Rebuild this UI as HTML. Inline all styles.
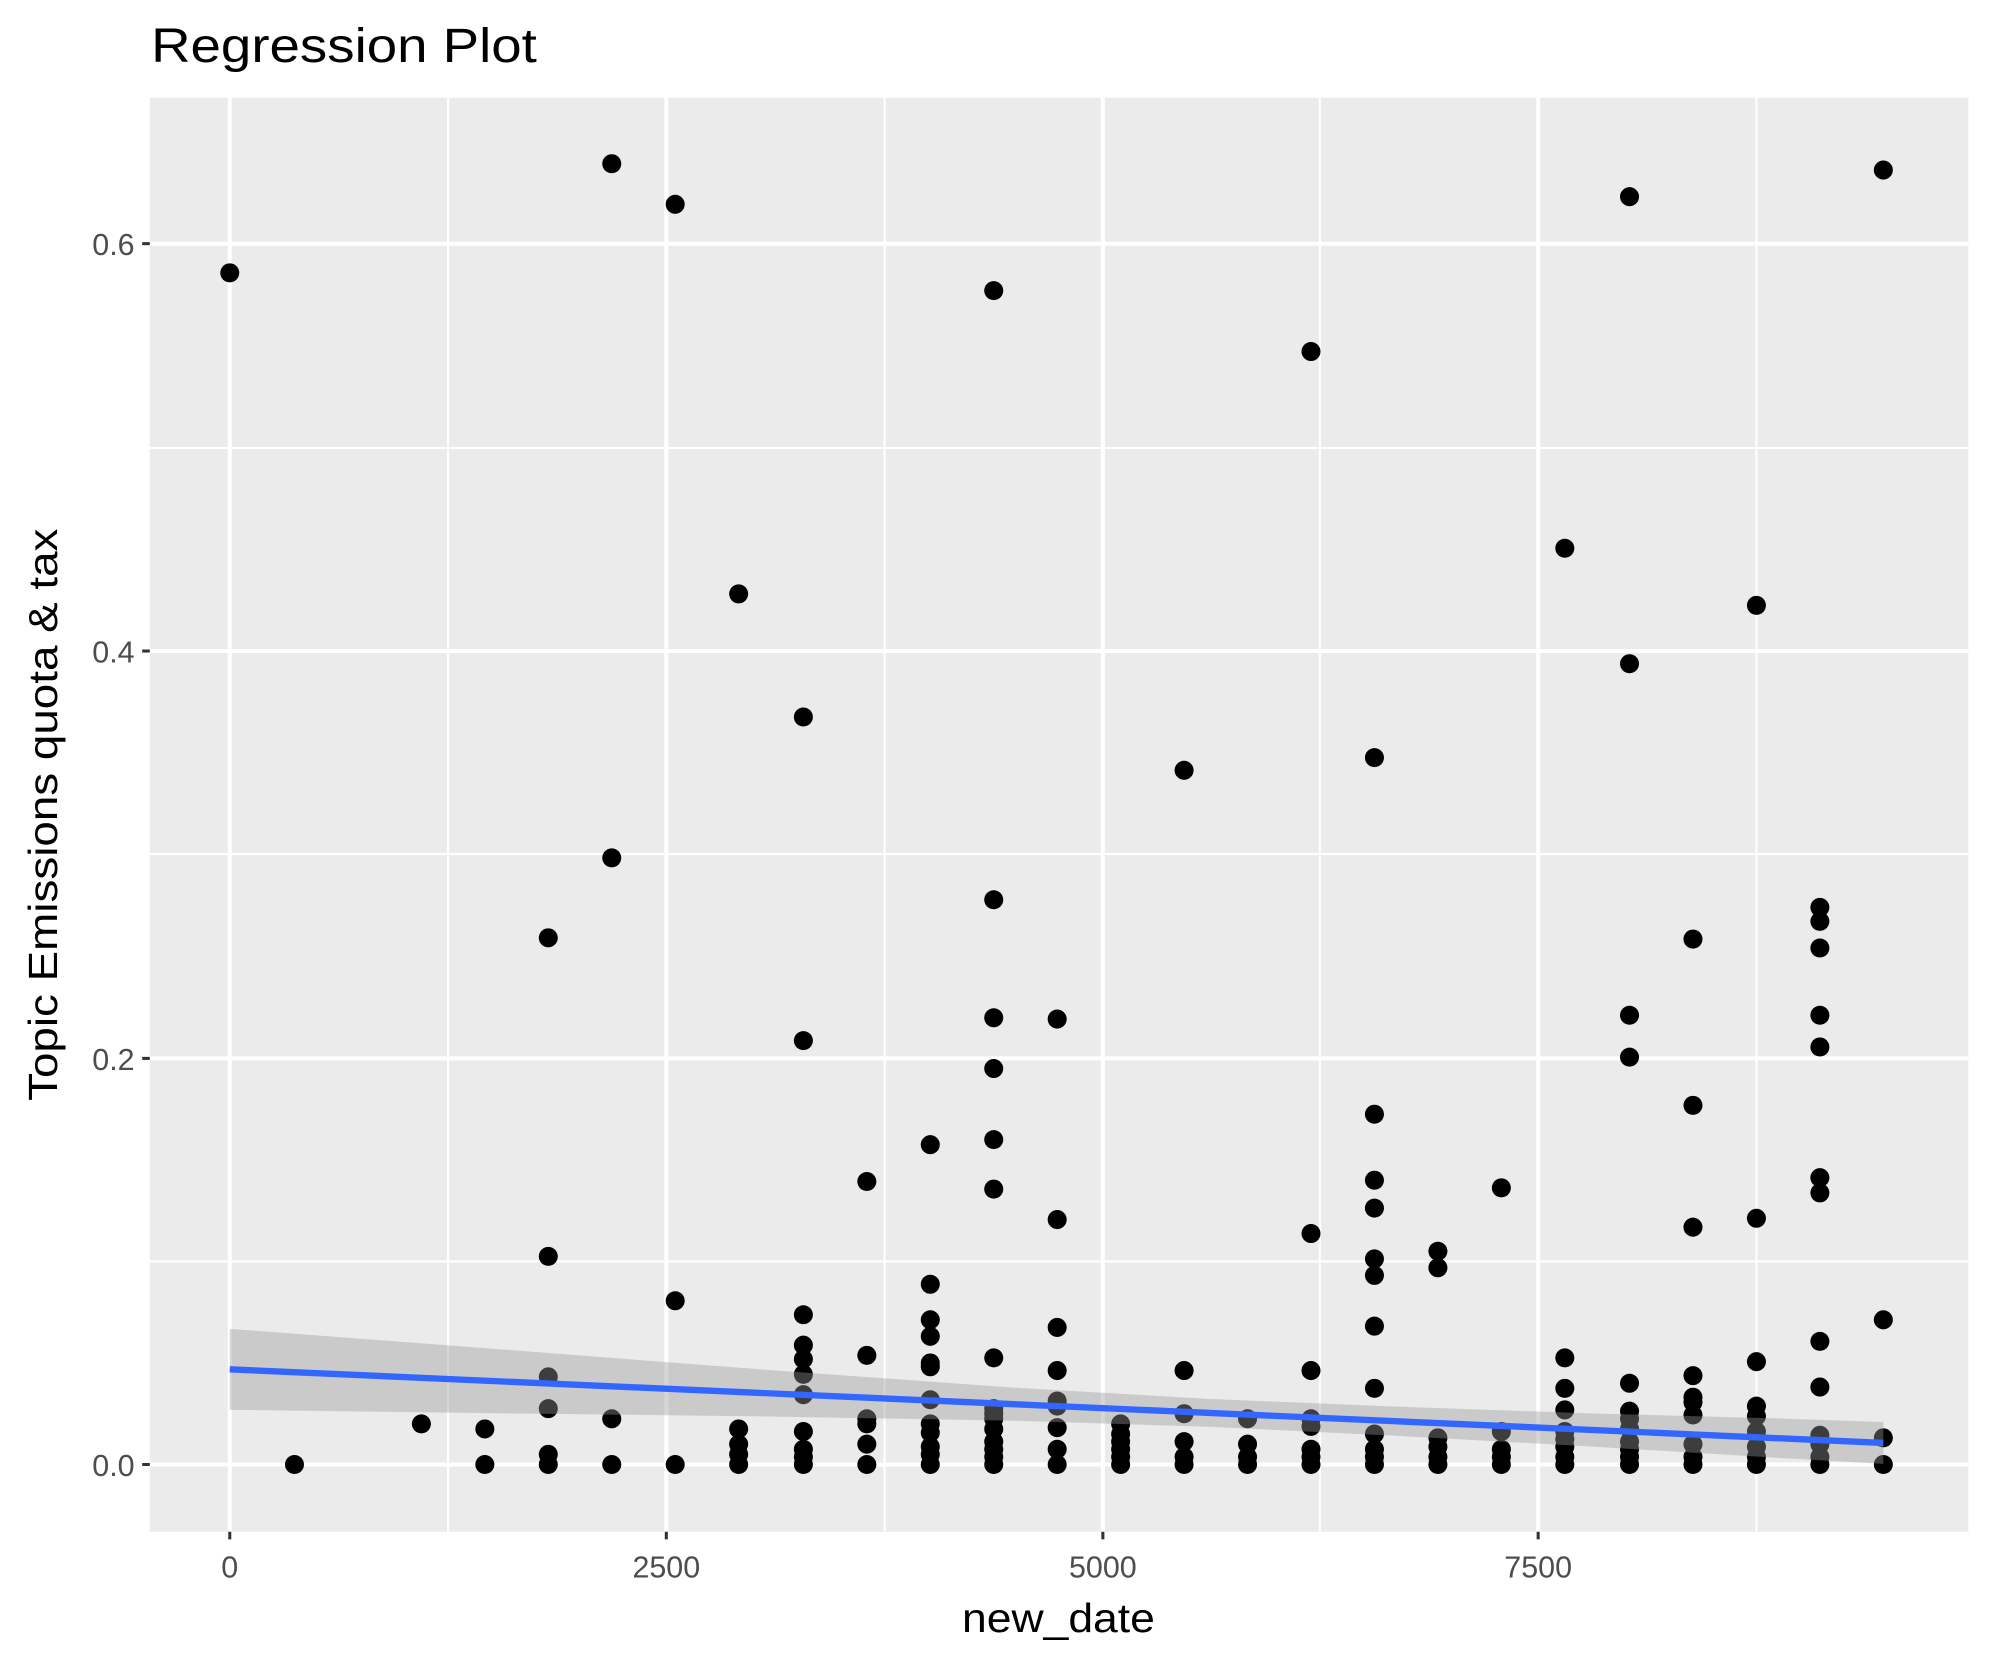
<!DOCTYPE html>
<html><head><meta charset="utf-8">
<style>
html,body{margin:0;padding:0;background:#fff;}
svg{display:block;}
.p circle{fill:#000;}
text{font-family:"Liberation Sans",Arial,sans-serif;}
</style></head>
<body>
<svg width="1990" height="1665" viewBox="0 0 1568 1312" xmlns="http://www.w3.org/2000/svg">
<rect x="0" y="0" width="1568" height="1312" fill="#fff"/>
<rect x="118" y="77" width="1433" height="1130" fill="#EBEBEB"/>
<g stroke="#fff" stroke-width="1.6">
<line x1="353" y1="77" x2="353" y2="1207"/><line x1="697" y1="77" x2="697" y2="1207"/>
<line x1="1040" y1="77" x2="1040" y2="1207"/><line x1="1384" y1="77" x2="1384" y2="1207"/>
<line x1="118" y1="994" x2="1551" y2="994"/><line x1="118" y1="673" x2="1551" y2="673"/>
<line x1="118" y1="353" x2="1551" y2="353"/>
</g>
<g stroke="#fff" stroke-width="3.2">
<line x1="181" y1="77" x2="181" y2="1207"/><line x1="525" y1="77" x2="525" y2="1207"/>
<line x1="869" y1="77" x2="869" y2="1207"/><line x1="1212" y1="77" x2="1212" y2="1207"/>
<line x1="118" y1="1154" x2="1551" y2="1154"/><line x1="118" y1="834" x2="1551" y2="834"/>
<line x1="118" y1="513" x2="1551" y2="513"/><line x1="118" y1="192" x2="1551" y2="192"/>
</g>
<g class="p">
<circle cx="181" cy="215" r="7.5"/>
<circle cx="232" cy="1154" r="7.5"/>
<circle cx="332" cy="1122" r="7.5"/>
<circle cx="382" cy="1126" r="7.5"/><circle cx="382" cy="1154" r="7.5"/>
<g transform="translate(432,0)"><circle cy="739" r="7.5"/><circle cy="990" r="7.5"/><circle cy="1085" r="7.5"/><circle cy="1110" r="7.5"/><circle cy="1146" r="7.5"/><circle cy="1154" r="7.5"/></g>
<g transform="translate(482,0)"><circle cy="129" r="7.5"/><circle cy="676" r="7.5"/><circle cy="1118" r="7.5"/><circle cy="1154" r="7.5"/></g>
<g transform="translate(532,0)"><circle cy="161" r="7.5"/><circle cy="1025" r="7.5"/><circle cy="1154" r="7.5"/></g>
<g transform="translate(582,0)"><circle cy="468" r="7.5"/><circle cy="1126" r="7.5"/><circle cy="1138" r="7.5"/><circle cy="1146" r="7.5"/><circle cy="1154" r="7.5"/></g>
<g transform="translate(633,0)"><circle cy="565" r="7.5"/><circle cy="820" r="7.5"/><circle cy="1036" r="7.5"/><circle cy="1060" r="7.5"/><circle cy="1071" r="7.5"/><circle cy="1083" r="7.5"/><circle cy="1099" r="7.5"/><circle cy="1128" r="7.5"/><circle cy="1142" r="7.5"/><circle cy="1148" r="7.5"/><circle cy="1154" r="7.5"/></g>
<g transform="translate(683,0)"><circle cy="931" r="7.5"/><circle cy="1068" r="7.5"/><circle cy="1118" r="7.5"/><circle cy="1122" r="7.5"/><circle cy="1138" r="7.5"/><circle cy="1154" r="7.5"/></g>
<g transform="translate(733,0)"><circle cy="902" r="7.5"/><circle cy="1012" r="7.5"/><circle cy="1040" r="7.5"/><circle cy="1053" r="7.5"/><circle cy="1074" r="7.5"/><circle cy="1077" r="7.5"/><circle cy="1103" r="7.5"/><circle cy="1122" r="7.5"/><circle cy="1129" r="7.5"/><circle cy="1140" r="7.5"/><circle cy="1146" r="7.5"/><circle cy="1154" r="7.5"/></g>
<g transform="translate(783,0)"><circle cy="229" r="7.5"/><circle cy="709" r="7.5"/><circle cy="802" r="7.5"/><circle cy="842" r="7.5"/><circle cy="898" r="7.5"/><circle cy="937" r="7.5"/><circle cy="1070" r="7.5"/><circle cy="1110" r="7.5"/><circle cy="1114" r="7.5"/><circle cy="1118" r="7.5"/><circle cy="1126" r="7.5"/><circle cy="1136" r="7.5"/><circle cy="1142" r="7.5"/><circle cy="1148" r="7.5"/><circle cy="1154" r="7.5"/></g>
<g transform="translate(833,0)"><circle cy="803" r="7.5"/><circle cy="961" r="7.5"/><circle cy="1046" r="7.5"/><circle cy="1080" r="7.5"/><circle cy="1104" r="7.5"/><circle cy="1108" r="7.5"/><circle cy="1125" r="7.5"/><circle cy="1142" r="7.5"/><circle cy="1154" r="7.5"/></g>
<g transform="translate(883,0)"><circle cy="1122" r="7.5"/><circle cy="1130" r="7.5"/><circle cy="1136" r="7.5"/><circle cy="1142" r="7.5"/><circle cy="1148" r="7.5"/><circle cy="1154" r="7.5"/></g>
<g transform="translate(933,0)"><circle cy="607" r="7.5"/><circle cy="1080" r="7.5"/><circle cy="1114" r="7.5"/><circle cy="1136" r="7.5"/><circle cy="1148" r="7.5"/><circle cy="1154" r="7.5"/></g>
<g transform="translate(983,0)"><circle cy="1118" r="7.5"/><circle cy="1138" r="7.5"/><circle cy="1148" r="7.5"/><circle cy="1154" r="7.5"/></g>
<g transform="translate(1033,0)"><circle cy="277" r="7.5"/><circle cy="972" r="7.5"/><circle cy="1080" r="7.5"/><circle cy="1118" r="7.5"/><circle cy="1124" r="7.5"/><circle cy="1142" r="7.5"/><circle cy="1148" r="7.5"/><circle cy="1154" r="7.5"/></g>
<g transform="translate(1083,0)"><circle cy="597" r="7.5"/><circle cy="878" r="7.5"/><circle cy="930" r="7.5"/><circle cy="952" r="7.5"/><circle cy="992" r="7.5"/><circle cy="1005" r="7.5"/><circle cy="1045" r="7.5"/><circle cy="1094" r="7.5"/><circle cy="1130" r="7.5"/><circle cy="1142" r="7.5"/><circle cy="1148" r="7.5"/><circle cy="1154" r="7.5"/></g>
<g transform="translate(1133,0)"><circle cy="986" r="7.5"/><circle cy="999" r="7.5"/><circle cy="1133" r="7.5"/><circle cy="1140" r="7.5"/><circle cy="1148" r="7.5"/><circle cy="1154" r="7.5"/></g>
<g transform="translate(1183,0)"><circle cy="936" r="7.5"/><circle cy="1128" r="7.5"/><circle cy="1142" r="7.5"/><circle cy="1148" r="7.5"/><circle cy="1154" r="7.5"/></g>
<g transform="translate(1233,0)"><circle cy="432" r="7.5"/><circle cy="1070" r="7.5"/><circle cy="1094" r="7.5"/><circle cy="1111" r="7.5"/><circle cy="1128" r="7.5"/><circle cy="1134" r="7.5"/><circle cy="1140" r="7.5"/><circle cy="1148" r="7.5"/><circle cy="1154" r="7.5"/></g>
<g transform="translate(1284,0)"><circle cy="155" r="7.5"/><circle cy="523" r="7.5"/><circle cy="800" r="7.5"/><circle cy="833" r="7.5"/><circle cy="1090" r="7.5"/><circle cy="1112" r="7.5"/><circle cy="1118" r="7.5"/><circle cy="1126" r="7.5"/><circle cy="1136" r="7.5"/><circle cy="1142" r="7.5"/><circle cy="1148" r="7.5"/><circle cy="1154" r="7.5"/></g>
<g transform="translate(1334,0)"><circle cy="740" r="7.5"/><circle cy="871" r="7.5"/><circle cy="967" r="7.5"/><circle cy="1084" r="7.5"/><circle cy="1101" r="7.5"/><circle cy="1105" r="7.5"/><circle cy="1115" r="7.5"/><circle cy="1138" r="7.5"/><circle cy="1148" r="7.5"/><circle cy="1154" r="7.5"/></g>
<g transform="translate(1384,0)"><circle cy="477" r="7.5"/><circle cy="960" r="7.5"/><circle cy="1073" r="7.5"/><circle cy="1108" r="7.5"/><circle cy="1116" r="7.5"/><circle cy="1128" r="7.5"/><circle cy="1140" r="7.5"/><circle cy="1148" r="7.5"/><circle cy="1154" r="7.5"/></g>
<g transform="translate(1434,0)"><circle cy="715" r="7.5"/><circle cy="726" r="7.5"/><circle cy="747" r="7.5"/><circle cy="800" r="7.5"/><circle cy="825" r="7.5"/><circle cy="928" r="7.5"/><circle cy="940" r="7.5"/><circle cy="1057" r="7.5"/><circle cy="1093" r="7.5"/><circle cy="1131" r="7.5"/><circle cy="1138" r="7.5"/><circle cy="1148" r="7.5"/><circle cy="1154" r="7.5"/></g>
<g transform="translate(1484,0)"><circle cy="134" r="7.5"/><circle cy="1040" r="7.5"/><circle cy="1133" r="7.5"/><circle cy="1154" r="7.5"/></g>
</g>
<polygon fill="#999999" fill-opacity="0.4" points="181,1047.1 400,1063.7 600,1079.1 800,1093.5 950,1102.2 1100,1108.4 1250,1113.6 1400,1117.7 1484,1120.5 1484,1153.5 1400,1148.7 1250,1139.6 1100,1131.4 950,1124.2 800,1119.5 600,1116.1 400,1113.7 181,1110.9"/>
<line x1="181" y1="1079" x2="1484" y2="1137" stroke="#3366FF" stroke-width="5"/>
<g stroke="#333" stroke-width="2.4">
<line x1="181" y1="1207" x2="181" y2="1213"/><line x1="525" y1="1207" x2="525" y2="1213"/>
<line x1="869" y1="1207" x2="869" y2="1213"/><line x1="1212" y1="1207" x2="1212" y2="1213"/>
<line x1="112" y1="1154" x2="118" y2="1154"/><line x1="112" y1="834" x2="118" y2="834"/>
<line x1="112" y1="513" x2="118" y2="513"/><line x1="112" y1="192" x2="118" y2="192"/>
</g>
<g fill="#4D4D4D" font-size="24">
<text x="181" y="1243" text-anchor="middle">0</text>
<text x="525" y="1243" text-anchor="middle">2500</text>
<text x="869" y="1243" text-anchor="middle">5000</text>
<text x="1212" y="1243" text-anchor="middle">7500</text>
<text x="106" y="1163" text-anchor="end">0.0</text>
<text x="106" y="843" text-anchor="end">0.2</text>
<text x="106" y="522" text-anchor="end">0.4</text>
<text x="106" y="201" text-anchor="end">0.6</text>
</g>
<text x="834" y="1286" text-anchor="middle" font-size="32" fill="#000" textLength="152" lengthAdjust="spacingAndGlyphs">new_date</text>
<text transform="translate(45,642) rotate(-90)" text-anchor="middle" font-size="32" fill="#000" textLength="451" lengthAdjust="spacingAndGlyphs">Topic Emissions quota &amp; tax</text>
<text x="119" y="49" font-size="38" fill="#000" textLength="304" lengthAdjust="spacingAndGlyphs">Regression Plot</text>
</svg>
</body></html>
